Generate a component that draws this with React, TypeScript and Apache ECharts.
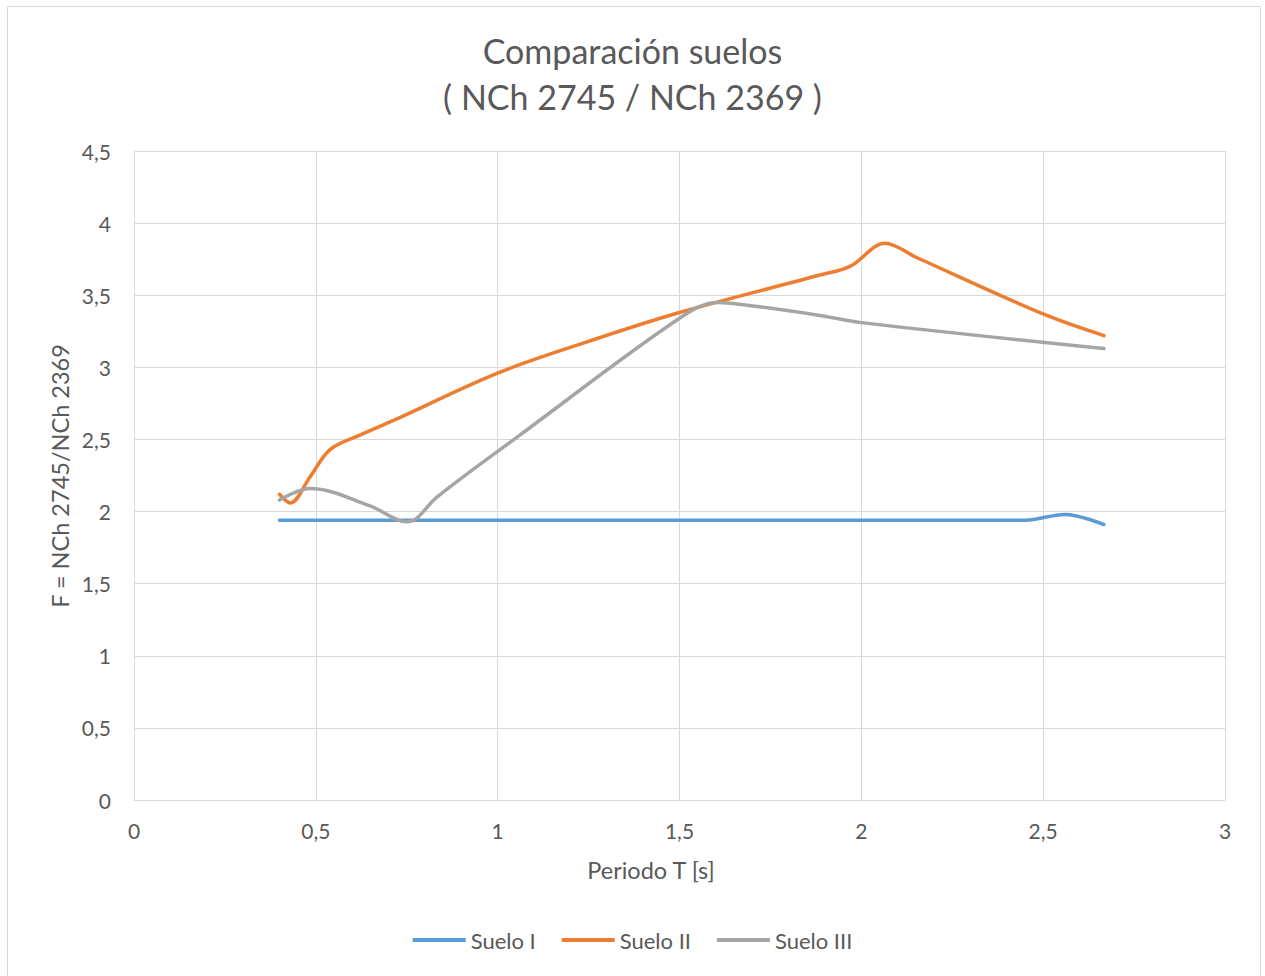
import React, { useEffect, useRef } from "react";
import * as echarts from "echarts";

const titleLines = ["Comparación suelos", "( NCh 2745 / NCh 2369 )"];
const xAxisName = "Periodo T [s]";
const yAxisName = "F = NCh 2745/NCh 2369";
const seriesNames = ["Suelo I", "Suelo II", "Suelo III"];
const seriesColors = ["#5b9bd5", "#ed7d31", "#a5a5a5"];

const sueloI: [number, number][] = [
  [0.4, 1.94], [1.0, 1.94], [1.5, 1.94], [2.0, 1.94], [2.35, 1.94], [2.45, 1.94],
  [2.56, 1.98], [2.667, 1.91],
];
const sueloII: [number, number][] = [
  [0.4, 2.12], [0.43, 2.06], [0.484, 2.24], [0.539, 2.43], [0.621, 2.53], [0.712, 2.63],
  [1.0, 2.96], [1.25, 3.18], [1.5, 3.38], [1.886, 3.64], [1.969, 3.7],
  [2.065, 3.86], [2.153, 3.76], [2.5, 3.37], [2.667, 3.22],
];
const sueloIII: [number, number][] = [
  [0.4, 2.08], [0.484, 2.16], [0.649, 2.04], [0.75, 1.93],
  [0.778, 1.955], [0.833, 2.1], [1.061, 2.53], [1.5, 3.34], [1.603, 3.45],
  [1.72, 3.42], [1.886, 3.36], [2.0, 3.31], [2.667, 3.13],
];

const fmt = (v: number) => String(v).replace(".", ",");

export default function App() {
  const ref = useRef<HTMLDivElement>(null);
  useEffect(() => {
    if (!ref.current) return;
    const chart = echarts.init(ref.current, null, { renderer: "svg" });
    const font = "Lato, 'Open Sans', sans-serif";
    const data = [sueloI, sueloII, sueloIII];
    chart.setOption({
      animation: false,
      backgroundColor: "#ffffff",
      textStyle: { fontFamily: font },
      title: {
        text: titleLines.join("\n"),
        left: "center",
        top: 22,
        textStyle: { fontSize: 34, fontWeight: "normal", color: "#595959", lineHeight: 46, fontFamily: font },
      },
      grid: { left: 134, right: 40, top: 151, bottom: 176 },
      xAxis: {
        type: "value",
        min: 0,
        max: 3,
        interval: 0.5,
        axisLine: { show: true, lineStyle: { color: "#d9d9d9", width: 1 } },
        axisTick: { show: false },
        axisLabel: { formatter: fmt, fontSize: 21, color: "#595959", margin: 20, fontFamily: font },
        splitLine: { show: true, lineStyle: { color: "#d9d9d9", width: 1 } },
      },
      yAxis: {
        type: "value",
        min: 0,
        max: 4.5,
        interval: 0.5,
        axisLine: { show: true, lineStyle: { color: "#d9d9d9", width: 1 } },
        axisTick: { show: false },
        axisLabel: { formatter: fmt, fontSize: 21, color: "#595959", margin: 23, fontFamily: font },
        splitLine: { show: true, lineStyle: { color: "#d9d9d9", width: 1 } },
      },
      legend: {
        top: 924,
        left: "center",
        icon: "rect",
        itemWidth: 53,
        itemHeight: 4,
        itemGap: 26,
        textStyle: { fontSize: 22, color: "#595959", fontFamily: font },
        data: seriesNames,
      },
      series: seriesNames.map((name, i) => ({
        name,
        type: "line",
        data: data[i],
        smooth: 0.35,
        showSymbol: false,
        symbol: "none",
        color: seriesColors[i],
        lineStyle: { width: 3.5, color: seriesColors[i], cap: "round" },
      })),
      graphic: [
        {
          type: "rect",
          shape: { x: 7.5, y: 6.5, width: 1253, height: 980 },
          style: { fill: "none", stroke: "#d9d9d9", lineWidth: 1 },
          silent: true,
          z: -1,
        },
        {
          type: "text",
          x: 651,
          y: 870,
          style: { text: xAxisName, fill: "#595959", font: `23.5px ${font}`, align: "center", verticalAlign: "middle" },
        },
        {
          type: "text",
          x: 60,
          y: 476,
          rotation: Math.PI / 2,
          style: { text: yAxisName, fill: "#595959", font: `23.5px ${font}`, align: "center", verticalAlign: "middle" },
        },
      ],
    });
    return () => chart.dispose();
  }, []);
  return <div ref={ref} style={{ position: "absolute", left: 0, top: 0, width: 1265, height: 976 }} />;
}
